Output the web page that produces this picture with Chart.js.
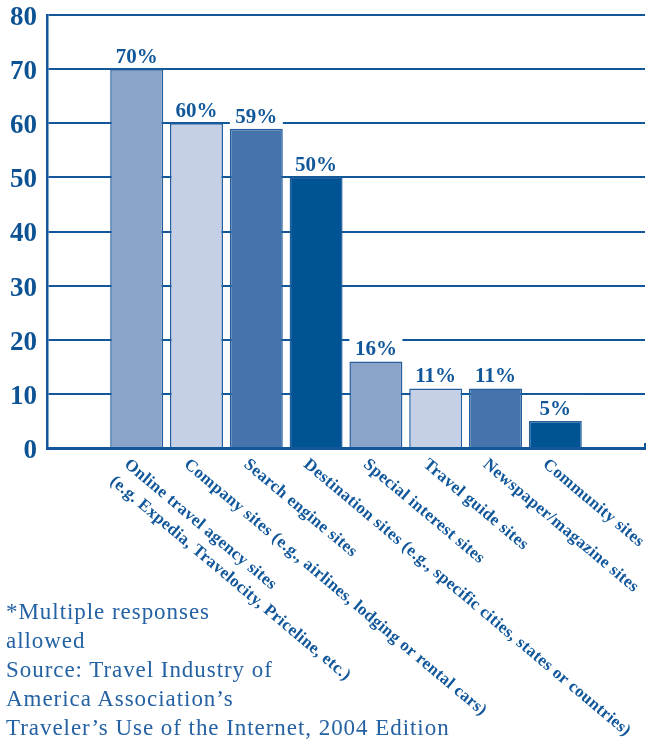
<!DOCTYPE html>
<html>
<head>
<meta charset="utf-8">
<script src="https://cdn.jsdelivr.net/npm/chart.js@4"></script>
<style>
  html, body { margin: 0; padding: 0; background: #fff; }
  #wrap { position: relative; width: 647px; height: 741px; }
  #nota {
    position: absolute; left: 6px; top: 597px;
    font: 23px "Liberation Serif", serif; line-height: 29px;
    color: #2462a3; letter-spacing: 0.95px; white-space: nowrap;
  }
</style>
</head>
<body>
<div id="wrap">
  <canvas id="grafico" width="647" height="741"></canvas>
  <div id="nota">*Multiple responses<br>allowed<br>Source: Travel Industry of<br>America Association’s<br>Traveler’s Use of the Internet, 2004 Edition</div>
</div>
<script>
// categorias (quebra de linha com \n) e percentuais
const categorias = [
  'Online travel agency sites\n(e.g. Expedia, Travelocity, Priceline, etc.)',
  'Company sites (e.g., airlines, lodging or rental cars)',
  'Search engine sites',
  'Destination sites (e.g., specific cities, states or countries)',
  'Special interest sites',
  'Travel guide sites',
  'Newspaper/magazine sites',
  'Community sites'
];
const percentuais = [70, 60, 59, 50, 16, 11, 11, 5];
const cores = ['#8aa4c9', '#c5cfe6', '#4573ac', '#005494', '#8aa4c9', '#c5cfe6', '#4573ac', '#005494'];
const eixoMin = 0, eixoMax = 80, passo = 10;

const azul = '#11579a';
const fonte = '"Liberation Serif", "DejaVu Serif", serif';

// uma categoria vazia em cada ponta, como no gráfico original
const rotulos = ['', ...categorias, ''];
const valores = [null, ...percentuais, null];
const fundo = ['#fff', ...cores, '#fff'];

// rótulos "70%" com fundo branco por cima das linhas de grade
const rotulosValor = {
  id: 'rotulosValor',
  afterDatasetsDraw(chart) {
    const ctx = chart.ctx;
    const meta = chart.getDatasetMeta(0);
    ctx.save();
    meta.data.forEach((bar, i) => {
      const v = valores[i];
      if (v == null) return;
      const w = bar.width;
      ctx.fillStyle = '#fff';
      ctx.fillRect(bar.x - w / 2, bar.y - 26, w, 24);
      ctx.fillStyle = azul;
      ctx.font = 'bold 21px ' + fonte;
      ctx.textAlign = 'center';
      ctx.textBaseline = 'alphabetic';
      ctx.fillText(v + '%', bar.x, bar.y - 6);
    });
    ctx.restore();
  },
  afterDraw(chart) {
    const ctx = chart.ctx;
    const x = chart.scales.x;
    const area = chart.chartArea;
    ctx.save();
    // pequeno traço no fim do eixo x
    ctx.strokeStyle = azul;
    ctx.lineWidth = 2;
    ctx.beginPath();
    ctx.moveTo(area.right, area.bottom);
    ctx.lineTo(area.right, area.bottom - 5);
    ctx.stroke();
    // nomes das categorias inclinados
    ctx.fillStyle = azul;
    ctx.font = 'bold 17px ' + fonte;
    ctx.letterSpacing = '0.3px';
    ctx.textAlign = 'left';
    ctx.textBaseline = 'top';
    categorias.forEach((nome, i) => {
      const px = x.getPixelForValue(i + 1);
      ctx.save();
      ctx.translate(px - 5, area.bottom + 8);
      ctx.rotate(40 * Math.PI / 180);
      nome.split('\n').forEach((linha, j) => {
        ctx.fillText(linha, 0, j * 22);
      });
      ctx.restore();
    });
    ctx.restore();
  }
};

new Chart(document.getElementById('grafico'), {
  type: 'bar',
  data: {
    labels: rotulos,
    datasets: [{
      data: valores,
      backgroundColor: fundo,
      borderColor: '#245f9e',
      borderWidth: 1.5,
      categoryPercentage: 1,
      barPercentage: 0.886
    }]
  },
  options: {
    responsive: false,
    animation: false,
    layout: { padding: { top: 15, right: 2, left: 0, bottom: 0 } },
    plugins: { legend: { display: false }, tooltip: { enabled: false } },
    scales: {
      x: {
        grid: { display: false },
        border: { display: true, color: azul, width: 3 },
        ticks: { display: false },
        afterFit: (s) => { s.height = 293; s.paddingLeft = 0; s.paddingRight = 0; }
      },
      y: {
        min: eixoMin,
        max: eixoMax,
        ticks: {
          stepSize: passo,
          color: '#0d5394',
          padding: 10,
          labelOffset: 3,
          font: { family: fonte, size: 27, weight: 'bold' }
        },
        grid: { color: azul, lineWidth: 2, drawTicks: false },
        border: { display: true, color: azul, width: 2.5 },
        afterFit: (s) => { s.width = 47; s.paddingTop = 0; s.paddingBottom = 0; }
      }
    }
  },
  plugins: [rotulosValor]
});
</script>
</body>
</html>
